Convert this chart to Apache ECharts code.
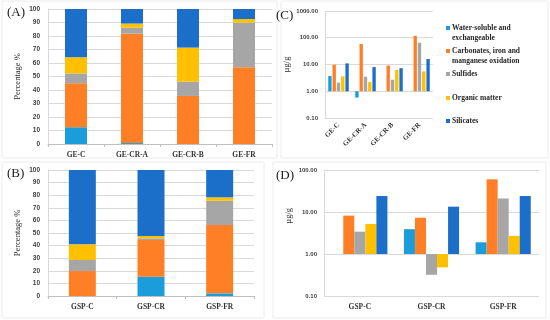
<!DOCTYPE html>
<html><head><meta charset="utf-8">
<script src="https://cdn.jsdelivr.net/npm/echarts@6/dist/echarts.min.js"></script>
<style>html,body{margin:0;padding:0;background:#fff}#c{width:550px;height:320px}</style>
</head><body><div id="c"></div>
<script>
// ---------- data ----------
const fractions = ['Water-soluble and exchangeable', 'Carbonates, iron and manganese oxidation', 'Sulfides', 'Organic matter', 'Silicates'];
const legendLabels = ['Water-soluble and\nexchangeable', 'Carbonates, iron and\nmanganese oxidation', 'Sulfides', 'Organic matter', 'Silicates'];
const colors = ['#1B9DDB', '#FF7F27', '#A6A6A6', '#FFC000', '#1C6FC9'];

const geSamples = ['GE-C', 'GE-CR-A', 'GE-CR-B', 'GE-FR'];
const gspSamples = ['GSP-C', 'GSP-CR', 'GSP-FR'];

// (A) percentage of each fraction, GE samples
const geWaterPct   = [12.4, 0.7, 0, 0];
const geCarbPct    = [32.6, 81.0, 35.6, 56.8];
const geSulfPct    = [7.3, 4.5, 10.6, 33.1];
const geOrgPct     = [11.9, 3.0, 25.2, 2.7];
const geSilPct     = [35.8, 10.8, 28.6, 7.4];

// (B) percentage of each fraction, GSP samples
const gspWaterPct  = [0, 15.3, 2.1];
const gspCarbPct   = [19.8, 29.1, 54.2];
const gspSulfPct   = [8.8, 1.4, 19.3];
const gspOrgPct    = [12.4, 1.8, 2.7];
const gspSilPct    = [59.2, 52.4, 21.7];

// (C) concentration µg/g, GE samples (null = not detected)
const geWaterConc  = [3.7, 0.58, null, null];
const geCarbConc   = [9.8, 58, 9.2, 118];
const geSulfConc   = [2.1, 3.5, 2.7, 65];
const geOrgConc    = [3.6, 2.2, 6.3, 5.5];
const geSilConc    = [11, 8.0, 7.3, 16];

// (D) concentration µg/g, GSP samples
const gspWaterConc = [null, 3.9, 1.9];
const gspCarbConc  = [8.2, 7.3, 60];
const gspSulfConc  = [3.4, 0.32, 21];
const gspOrgConc   = [5.2, 0.48, 2.7];
const gspSilConc   = [24, 13.4, 24];

const pctTicks = [0, 10, 20, 30, 40, 50, 60, 70, 80, 90, 100];
const logTicksC = [0.1, 1, 10, 100, 1000];
const logTicksD = [0.1, 1, 10, 100];

const gePct = [geWaterPct, geCarbPct, geSulfPct, geOrgPct, geSilPct];
const gspPct = [gspWaterPct, gspCarbPct, gspSulfPct, gspOrgPct, gspSilPct];
const geConc = [geWaterConc, geCarbConc, geSulfConc, geOrgConc, geSilConc];
const gspConc = [gspWaterConc, gspCarbConc, gspSulfConc, gspOrgConc, gspSilConc];

// ---------- styles ----------
const SERIF = '"Liberation Serif", "DejaVu Serif", serif';
const SANS = '"Liberation Sans", Arial, sans-serif';
const gridCol = '#d9d9d9';
const tickLbl = { fontFamily: SANS, fontWeight: 'bold', fontSize: 6.5, color: '#404040' };
const catLbl = { fontFamily: SERIF, fontWeight: 'bold', fontSize: 7.5, color: '#333' };

function pctAxis(idx) {
  return {
    gridIndex: idx, type: 'value', min: pctTicks[0], max: pctTicks[pctTicks.length - 1],
    interval: pctTicks[1] - pctTicks[0],
    name: 'Percentage %', nameLocation: 'middle', nameGap: 26,
    nameTextStyle: { fontFamily: SERIF, fontSize: 8.5, color: '#262626' },
    axisLine: { show: true, lineStyle: { color: gridCol } }, axisTick: { show: false },
    axisLabel: Object.assign({ margin: 8 }, tickLbl),
    splitLine: { lineStyle: { color: gridCol, width: 1 } }
  };
}
function logAxis(idx, ticks, withName) {
  return {
    gridIndex: idx, type: 'log', logBase: 10, min: ticks[0], max: ticks[ticks.length - 1],
    name: withName ? 'µg/g' : '', nameLocation: 'middle', nameGap: 34,
    nameTextStyle: { fontFamily: SERIF, fontSize: 8.5, color: '#262626' },
    axisLine: { show: true, lineStyle: { color: gridCol } }, axisTick: { show: false },
    axisLabel: Object.assign({ margin: 7, formatter: v => Number(v).toFixed(2) }, tickLbl, { fontSize: 6 }),
    splitLine: { lineStyle: { color: gridCol, width: 1 } }
  };
}
function catAxis(idx, data, opts) {
  return Object.assign({
    gridIndex: idx, type: 'category', data: data,
    axisLine: { show: true, lineStyle: { color: '#bfbfbf' } },
    axisTick: { show: true, alignWithLabel: false, length: 3, lineStyle: { color: '#bfbfbf' } },
    axisLabel: Object.assign({ margin: 7 }, catLbl)
  }, opts || {});
}

const series = [];
fractions.forEach((f, i) => {
  series.push({ type: 'bar', name: f, xAxisIndex: 0, yAxisIndex: 0, stack: 'A', data: gePct[i],
    barWidth: 22, itemStyle: { color: colors[i] } });
  series.push({ type: 'bar', name: f, xAxisIndex: 1, yAxisIndex: 1, stack: 'B', data: gspPct[i],
    barWidth: 27, itemStyle: { color: colors[i] } });
  series.push({ type: 'bar', name: f, xAxisIndex: 2, yAxisIndex: 2, data: geConc[i],
    barCategoryGap: '24%', barGap: '28%', itemStyle: { color: colors[i] } });
  series.push({ type: 'bar', name: f, xAxisIndex: 3, yAxisIndex: 3, data: gspConc[i],
    barCategoryGap: '23%', barGap: '0%', itemStyle: { color: colors[i] } });
});

// legend drawn from the fraction list
const legendGraphics = [];
const legendY = [28, 51, 74, 98, 121];
legendLabels.forEach((t, i) => {
  legendGraphics.push({ type: 'rect', left: 446, top: legendY[i] - 2, shape: { width: 4, height: 4 }, style: { fill: colors[i] } });
  legendGraphics.push({ type: 'text', left: 452, top: legendY[i] - 5,
    style: { text: t, fontFamily: SERIF, fontWeight: 'bold', fontSize: 7.5, lineHeight: 10, fill: '#262626' } });
});

const panelBox = (x, y, w, h) => ({ type: 'rect', shape: { x: x, y: y, width: w, height: h },
  style: { fill: 'none', stroke: '#ececec', lineWidth: 1 }, silent: true, z: -10 });
const panelLabel = (t, x, y) => ({ type: 'text', left: x, top: y,
  style: { text: t, fontFamily: SERIF, fontSize: 13, fill: '#1a1a1a' } });

const option = {
  animation: false,
  backgroundColor: '#fff',
  grid: [
    { left: 48, top: 9, width: 224, height: 135, containLabel: false, outerBoundsMode: 'none' },
    { left: 48, top: 170, width: 206, height: 126, containLabel: false, outerBoundsMode: 'none' },
    { left: 325, top: 11, width: 108, height: 107, containLabel: false, outerBoundsMode: 'none' },
    { left: 324, top: 170, width: 215, height: 126, containLabel: false, outerBoundsMode: 'none' }
  ],
  xAxis: [
    catAxis(0, geSamples),
    catAxis(1, gspSamples),
    catAxis(2, geSamples, { axisLine: { show: false }, axisTick: { show: false },
      axisLabel: Object.assign({ margin: 6, rotate: 45 }, catLbl, { fontSize: 7 }) }),
    catAxis(3, gspSamples, { axisLine: { show: false }, axisTick: { show: false } })
  ],
  yAxis: [pctAxis(0), pctAxis(1), logAxis(2, logTicksC, true), logAxis(3, logTicksD, false)],
  series: series,
  graphic: [
    panelBox(2, 1, 275, 157), panelBox(2, 162, 262, 156),
    panelBox(281, 1, 267, 157), panelBox(273, 162, 273, 156),
    panelLabel('(A)', 7, 6), panelLabel('(B)', 7, 167),
    panelLabel('(C)', 276, 9), panelLabel('(D)', 276, 169),
    { type: 'text', left: 284, top: 208, rotation: Math.PI / 2,
      style: { text: 'µg/g', fontFamily: SERIF, fontSize: 8.5, fill: '#262626' } }
  ].concat(legendGraphics)
};

const chart = echarts.init(document.getElementById('c'), null, { renderer: 'canvas' });
chart.setOption(option);
</script></body></html>
